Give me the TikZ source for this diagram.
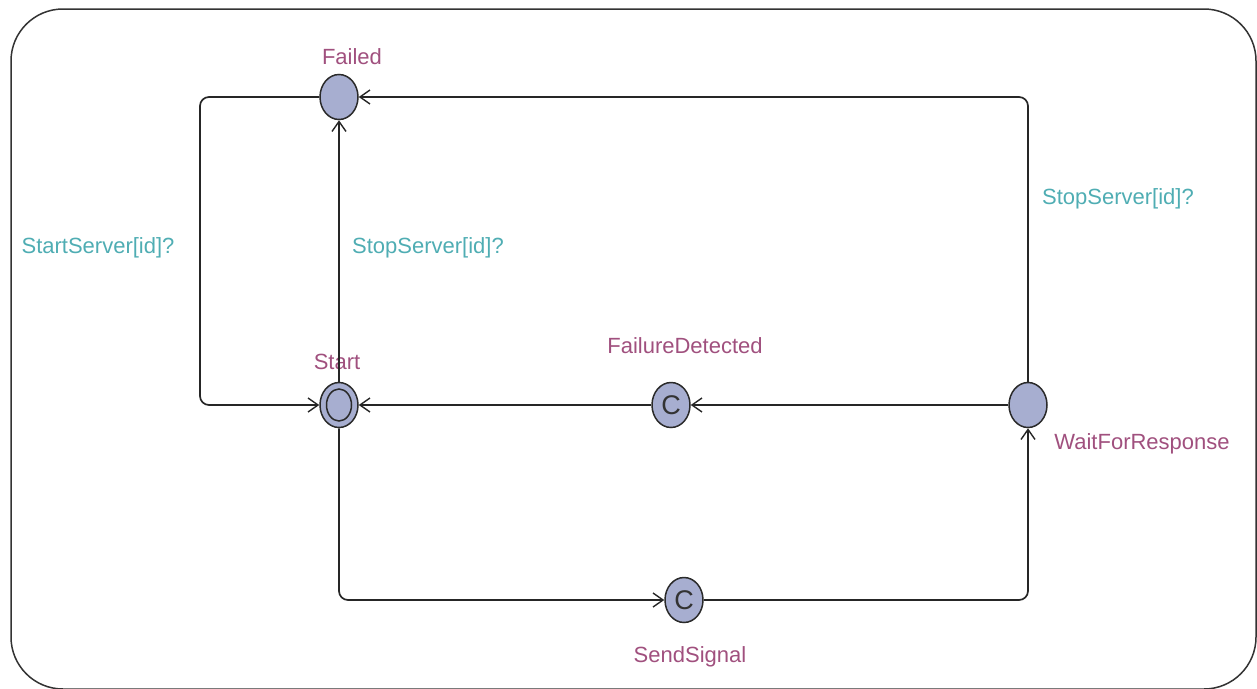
\documentclass[tikz,border=0pt]{standalone}
\usepackage{fontspec}
\setmainfont{Liberation Sans}
\usetikzlibrary{shapes.geometric,arrows.meta}
\definecolor{locfill}{HTML}{A7AED0}
\definecolor{locdraw}{HTML}{2A2A2A}
\definecolor{locname}{HTML}{A0507E}
\definecolor{synccol}{HTML}{4FADB3}
\begin{document}
\begin{tikzpicture}[x=1pt,y=-1pt,
  loc/.style={ellipse,draw=locdraw,fill=locfill,line width=1.5pt,minimum width=38pt,minimum height=45pt,inner sep=0pt},
  inner/.style={ellipse,draw=locdraw,line width=1.5pt,minimum width=25pt,minimum height=32pt,inner sep=0pt},
  lname/.style={text=locname,font=\fontsize{22}{26}\selectfont,inner sep=0pt},
  sync/.style={text=synccol,font=\fontsize{22}{26}\selectfont,inner sep=0pt},
  edge/.style={draw=black!85,line width=1.7pt,rounded corners=9pt,-{Straight Barb[length=10pt,width=14pt,line width=1.4pt]}},
  cmark/.style={font=\fontsize{27}{30}\selectfont,text=black!80}]
\useasboundingbox (0,0) rectangle (1257,688);
\draw[line width=1.5pt,draw=black!80,rounded corners=52pt] (11,9) rectangle (1256,689);

\node[loc] (failed) at (339,97) {};
\node[loc] (start) at (339,405) {};
\node[inner] (startin) at (339,405) {};
\node[loc,cmark] (fd) at (671,405) {C};
\node[loc] (wait) at (1028,405) {};
\node[loc,cmark] (send) at (684,600) {C};

\node[lname] (lfailed) at (352,57) {Failed};
\node[lname] (lstart) at (337,362) {Start};
\node[lname] (lfd) at (685,346) {FailureDetected};
\node[lname] (lwait) at (1142,444) {WaitForResponse};
\node[lname] (lsend) at (690,657) {SendSignal};

\coordinate (c1) at (200,97);
\coordinate (c2) at (200,405);
\coordinate (c3) at (1028,97);
\coordinate (c4) at (339,600);
\coordinate (c5) at (1028,600);

\draw[edge] (start.north) -- (failed.south);
\draw[edge] (failed.west) -- (c1) -- (c2) -- (start.west);
\draw[edge] (wait.north) -- (c3) -- (failed.east);
\draw[edge] (wait.west) -- (fd.east);
\draw[edge] (fd.west) -- (start.east);
\draw[edge] (start.south) -- (c4) -- (send.west);
\draw[edge] (send.east) -- (c5) -- (wait.south);

\node[sync] (s1) at (428,248) {StopServer[id]?};
\node[sync] (s2) at (98,248) {StartServer[id]?};
\node[sync] (s3) at (1118,199) {StopServer[id]?};
\end{tikzpicture}
\end{document}
